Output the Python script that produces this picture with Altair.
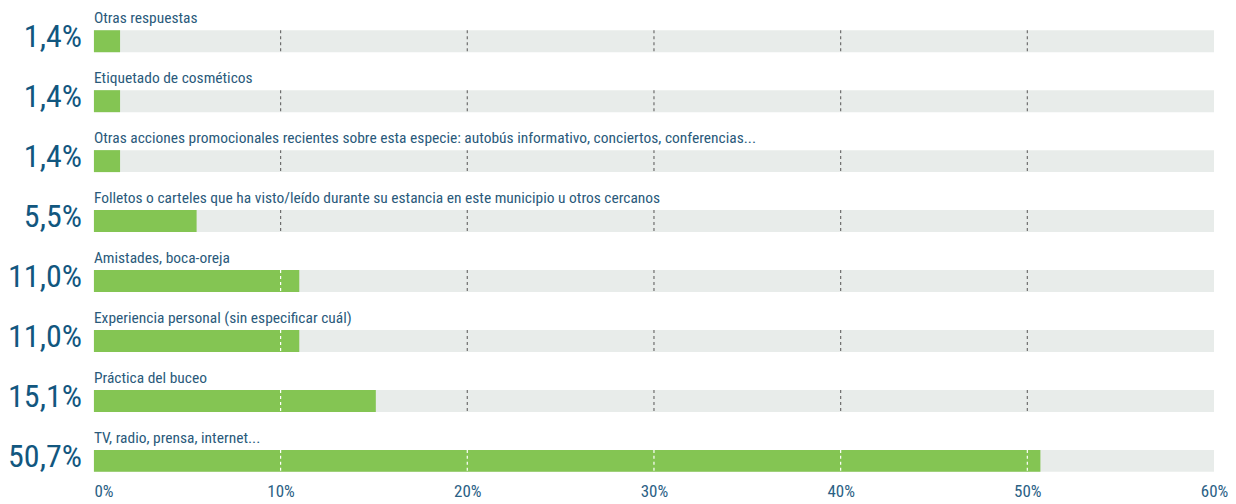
import altair as alt
import pandas as pd

categories = [
    "Otras respuestas",
    "Etiquetado de cosméticos",
    "Otras acciones promocionales recientes sobre esta especie: autobús informativo, conciertos, conferencias...",
    "Folletos o carteles que ha visto/leído durante su estancia en este municipio u otros cercanos",
    "Amistades, boca-oreja",
    "Experiencia personal (sin especificar cuál)",
    "Práctica del buceo",
    "TV, radio, prensa, internet...",
]
values = [1.4, 1.4, 1.4, 5.5, 11.0, 11.0, 15.1, 50.7]
value_labels = ["1,4%", "1,4%", "1,4%", "5,5%", "11,0%", "11,0%", "15,1%", "50,7%"]
ticks = [0, 10, 20, 30, 40, 50, 60]
grid_ticks = [10, 20, 30, 40, 50]
x_max = 60

df = pd.DataFrame({"cat": categories, "value": values, "vlabel": value_labels})
grid = pd.DataFrame(
    [{"cat": c, "tick": t, "inside": t < v} for c, v in zip(categories, values) for t in grid_ticks]
)

GREEN = "#84c553"
TRACK = "#e8ecea"
NUM_COL = "#12577f"
LAB_COL = "#2a5a7b"
FONT = "Roboto Condensed, Roboto, sans-serif"

yscale = alt.Scale(domain=categories, paddingInner=0.6333, paddingOuter=0.3167, align=0.58)
y = alt.Y("cat:N", scale=yscale, axis=None, sort=categories)
xscale = alt.Scale(domain=[0, x_max], nice=False)
xaxis = alt.Axis(
    values=ticks,
    labelExpr="datum.value + '%'",
    grid=False,
    domain=False,
    ticks=False,
    labelFont=FONT,
    labelFontSize=17,
    labelColor="#2b6185",
    labelPadding=-4,
    labelBaseline="top",
    labelAlign=alt.expr("datum.value == 0 ? 'left' : 'center'"),
    title=None,
)

track = alt.Chart(df).mark_bar(color=TRACK).encode(
    x=alt.X("t0:Q", scale=xscale, axis=xaxis),
    x2="t1:Q",
    y=y,
).transform_calculate(t0="0", t1=str(x_max))

bars = alt.Chart(df).mark_bar(color=GREEN).encode(
    x=alt.X("value:Q", scale=xscale),
    y=y,
)

gridlines = alt.Chart(grid).mark_rule(strokeDash=[3, 3], strokeWidth=1.2, yOffset=-11, y2Offset=11).encode(
    x=alt.X("tick:Q", scale=xscale),
    y=y,
    y2="cat:N",
    color=alt.Color("inside:N", scale=alt.Scale(domain=[True, False], range=["#ffffff", "#6e6e6e"]), legend=None),
)

cat_text = alt.Chart(df).mark_text(
    align="left", baseline="alphabetic", dy=-18, font=FONT, fontSize=15.5, color=LAB_COL
).encode(x=alt.value(0), y=y, text="cat:N")

num_text = alt.Chart(df).mark_text(
    align="right", baseline="alphabetic", dy=6, font=FONT, fontSize=32, color=NUM_COL
).encode(x=alt.value(-12), y=y, text="vlabel:N")

chart = (
    alt.layer(track, bars, gridlines, cat_text, num_text)
    .properties(
        width=1121,
        height=480,
        autosize=alt.AutoSizeParams(type="none"),
        padding={"left": 86, "top": 0, "right": 14, "bottom": 14},
    )
    .configure_view(stroke=None)
)

chart.save("out.html", embed_options={"renderer": "svg", "actions": False})
